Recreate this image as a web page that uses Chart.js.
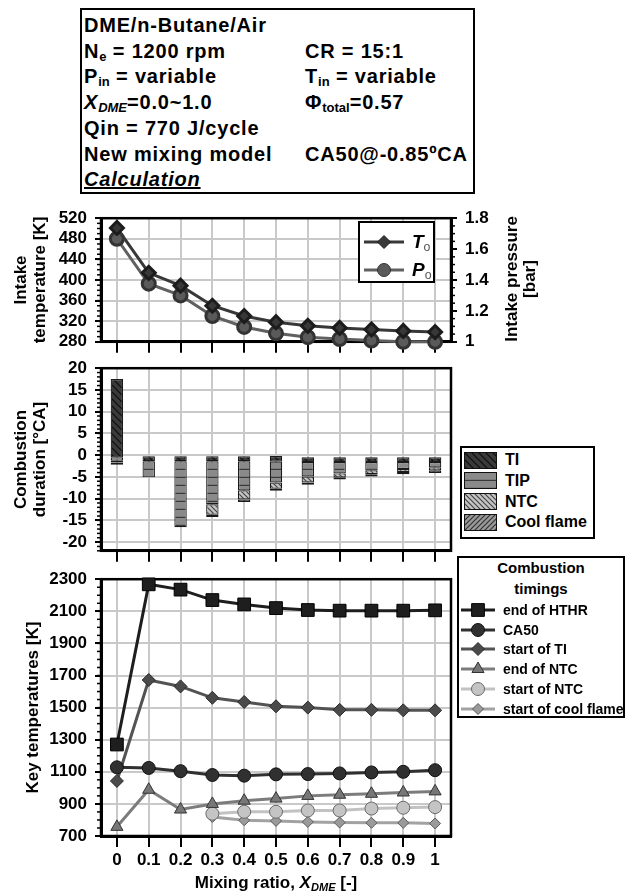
<!DOCTYPE html>
<html>
<head>
<meta charset="utf-8">
<script src="https://cdn.jsdelivr.net/npm/chart.js@4.4.0/dist/chart.umd.min.js"></script>
<style>
body { margin: 0; background: #fff; }
#page { position: relative; width: 631px; height: 892px; overflow: hidden; font-family: 'Liberation Sans', Arial, sans-serif; font-weight: bold; color: #000; }
#page canvas.chart { position: absolute; left: 0; }
.box { position: absolute; border: 2px solid #000; background: #fff; box-sizing: border-box; }
sub { font-size: 0.65em; line-height: 0; vertical-align: -0.25em; }
#info { left: 80px; top: 8px; width: 395px; height: 186px; font-size: 20px; letter-spacing: 0.8px; line-height: 25.7px; padding: 3px 0 0 2px; }
#info .row { display: flex; white-space: nowrap; }
#info .row span:first-child { width: 221px; }
#info sub { letter-spacing: 0; }
#leg1 { left: 358px; top: 221px; width: 77px; height: 62px; }
#leg2 { left: 460px; top: 446px; width: 135px; height: 93px; }
#leg3 { left: 457px; top: 556px; width: 168px; height: 162px; }
.item { position: absolute; display: flex; align-items: center; white-space: nowrap; }
.sw { width: 33px; height: 17px; border: 1.5px solid #111; box-sizing: border-box; margin-right: 8px; }
#leg3 .title { position: absolute; left: 0; width: 100%; text-align: center; font-size: 15px; line-height: 21px; top: -1px; }
#ytitle2 { position: absolute; left: 441px; top: 261px; width: 160px; text-align: center; font-size: 17px; line-height: 18px; transform: rotate(-90deg); }
#xtitle { position: absolute; left: 126px; top: 873px; width: 300px; text-align: center; font-size: 17px; }
</style>
</head>
<body>
<div id="page">
  <canvas id="intake" class="chart" width="631" height="160" style="top:200px"></canvas>
  <canvas id="duration" class="chart" width="631" height="219" style="top:350px"></canvas>
  <canvas id="temps" class="chart" width="631" height="331" style="top:561px"></canvas>

  <div id="info" class="box">
    <div class="row">DME/n-Butane/Air</div>
    <div class="row"><span>N<sub>e</sub> = 1200 rpm</span><span>CR = 15:1</span></div>
    <div class="row"><span>P<sub>in</sub> = variable</span><span>T<sub>in</sub> = variable</span></div>
    <div class="row"><span><i>X<sub>DME</sub></i>=0.0~1.0</span><span>&Phi;<sub>total</sub>=0.57</span></div>
    <div class="row">Qin = 770 J/cycle</div>
    <div class="row"><span>New mixing model</span><span>CA50@-0.85ºCA</span></div>
    <div class="row"><i><u>Calculation</u></i></div>
  </div>

  <div id="leg1" class="box"></div>
  <div id="leg2" class="box"></div>
  <div id="leg3" class="box"><div class="title">Combustion<br>timings</div></div>

  <div id="ytitle2">Intake pressure<br>[bar]</div>
  <div id="xtitle">Mixing ratio, <i>X<sub>DME</sub></i> [-]</div>
</div>

<script>
/*=======================================
 Data
========================================*/
const xLabels = ['0', '0.1', '0.2', '0.3', '0.4', '0.5', '0.6', '0.7', '0.8', '0.9', '1'];

// intake conditions
const intakeTemp = [501, 414, 389, 350, 330, 318, 311, 307, 304, 301, 299];
const intakePres = [1.667, 1.376, 1.30, 1.167, 1.096, 1.055, 1.03, 1.018, 1.008, 1.0, 1.0];

// combustion duration, segment boundaries [°CA] from top to bottom of each bar
const tiStart = [17.5, 0, 0, 0, 0, -0.2, -0.5, -0.5, -0.5, -0.5, -0.5];
const tiEnd = [-0.5, -1.4, -1.4, -1.4, -1.4, -1.5, -1.6, -1.6, -1.6, -1.6, -1.6];
const tipEnd = [-1.3, -5.1, -16.6, -11.3, -8.1, -6.3, -4.9, -4.2, -3.5, -3.2, -2.8];
const ntcEnd = [-1.7, -5.1, -16.6, -13.7, -10.2, -7.7, -6.3, -5.1, -4.4, -3.9, -3.5];
const coolEnd = [-2.2, -5.1, -16.6, -14.2, -10.8, -8.2, -6.8, -5.6, -4.9, -4.4, -4.1];
const durTicks = [-20, -15, -10, -5, 0, 5, 10, 15, 20];

// key temperatures [K]
const endHTHR = [1270, 2268, 2235, 2170, 2143, 2120, 2108, 2104, 2104, 2104, 2106];
const ca50 = [1128, 1124, 1104, 1080, 1076, 1084, 1086, 1090, 1096, 1100, 1110];
const startTI = [1043, 1672, 1632, 1561, 1535, 1508, 1500, 1486, 1486, 1483, 1483];
const endNTC = [757, 988, 865, 900, 920, 933, 950, 957, 963, 971, 978];
const startNTC = [null, null, null, 839, 851, 851, 859, 859, 871, 876, 880];
const startCool = [null, null, null, 818, 798, 794, 788, 784, 782, 782, 778];


/*=======================================
 Shared bits
========================================*/
Chart.defaults.font.family = "'Liberation Sans', Arial, sans-serif";
Chart.defaults.font.weight = 'bold';
Chart.defaults.color = '#000';

const gridColor = '#c9c9c9';
const tickFont = { size: 17, weight: 'bold' };
const titleFont = { size: 17, weight: 'bold', lineHeight: 1.1 };
const plain = v => String(Math.round(v * 100) / 100);

// black box round the plot area
const frame = {
  id: 'frame',
  beforeDatasetsDraw(chart) {
    const a = chart.chartArea, ctx = chart.ctx;
    ctx.save();
    ctx.strokeStyle = '#000';
    ctx.lineWidth = 2.5;
    ctx.strokeRect(a.left, a.top, a.right - a.left, a.bottom - a.top);
    ctx.restore();
  }
};

// small ticks between the labelled ones
const minorTicks = {
  id: 'minorTicks',
  afterDraw(chart, args, opts) {
    const ctx = chart.ctx;
    ctx.save();
    ctx.strokeStyle = '#000';
    ctx.lineWidth = 1.5;
    Object.keys(opts.steps || {}).forEach(id => {
      const scale = chart.scales[id];
      const step = opts.steps[id];
      let v = Math.ceil(scale.min / step - 1e-6) * step;
      for (; v <= scale.max + 1e-6; v += step) {
        const y = scale.getPixelForValue(v);
        ctx.beginPath();
        if (scale.position === 'left') { ctx.moveTo(scale.right, y); ctx.lineTo(scale.right - 4, y); }
        else { ctx.moveTo(scale.left, y); ctx.lineTo(scale.left + 4, y); }
        ctx.stroke();
      }
    });
    ctx.restore();
  }
};

function xAxis(showLabels, height) {
  return {
    offset: true,
    grid: { offset: false, color: gridColor, lineWidth: 2, tickColor: '#000', tickLength: 11, tickWidth: 2 },
    border: { color: '#000', width: 3 },
    ticks: { display: showLabels, font: { size: 17, weight: 'bold' }, padding: 3, maxRotation: 0, autoSkip: false },
    afterFit: s => { s.height = height; }
  };
}

function leftAxis(min, max, step, title, titlePad) {
  return {
    position: 'left', min: min, max: max,
    grid: { color: gridColor, lineWidth: 2, tickColor: '#000', tickLength: 6, tickWidth: 2 },
    border: { color: '#000', width: 3 },
    ticks: { stepSize: step, font: tickFont, padding: 8, autoSkip: false, callback: plain },
    title: { display: true, text: title, font: titleFont, padding: { top: titlePad, bottom: 0 } },
    afterFit: s => { s.width = 101; }
  };
}

// hatch tiles for the bars
function hatch(bg, fg, kind, gap) {
  const c = document.createElement('canvas');
  c.width = gap; c.height = gap;
  const g = c.getContext('2d');
  g.fillStyle = bg;
  g.fillRect(0, 0, gap, gap);
  g.strokeStyle = fg;
  g.lineWidth = 1.2;
  g.beginPath();
  if (kind === 'h') {
    g.moveTo(0, gap - 0.6); g.lineTo(gap, gap - 0.6);
  } else if (kind === 'back') {
    g.moveTo(0, 0); g.lineTo(gap, gap);
    g.moveTo(-2, gap - 2); g.lineTo(2, gap + 2);
    g.moveTo(gap - 2, -2); g.lineTo(gap + 2, 2);
  } else {
    g.moveTo(0, gap); g.lineTo(gap, 0);
    g.moveTo(-2, 2); g.lineTo(2, -2);
    g.moveTo(gap - 2, gap + 2); g.lineTo(gap + 2, gap - 2);
  }
  g.stroke();
  return c;
}

function drawMarker(g, style, x, y, r) {
  g.beginPath();
  if (style === 'circle') g.arc(x, y, r, 0, Math.PI * 2);
  else if (style === 'rect') { const s = r * Math.SQRT1_2; g.rect(x - s, y - s, 2 * s, 2 * s); }
  else if (style === 'rectRot') { g.moveTo(x, y - r); g.lineTo(x + r, y); g.lineTo(x, y + r); g.lineTo(x - r, y); g.closePath(); }
  else if (style === 'triangle') {
    for (let k = 0; k < 3; k++) {
      const a = k * 2 * Math.PI / 3;
      if (k === 0) g.moveTo(x + Math.sin(a) * r, y - Math.cos(a) * r);
      else g.lineTo(x + Math.sin(a) * r, y - Math.cos(a) * r);
    }
    g.closePath();
  }
  g.fill();
  g.stroke();
}

// legend line + marker icon
function lineIcon(ds, w, h) {
  const c = document.createElement('canvas');
  c.width = w; c.height = h;
  const g = c.getContext('2d');
  g.strokeStyle = ds.borderColor;
  g.lineWidth = ds.borderWidth;
  g.beginPath(); g.moveTo(0, h / 2); g.lineTo(w, h / 2); g.stroke();
  g.fillStyle = ds.pointBackgroundColor;
  g.strokeStyle = ds.pointBorderColor;
  g.lineWidth = 1;
  drawMarker(g, ds.pointStyle, w / 2, h / 2, ds.pointRadius);
  c.style.marginRight = '8px';
  return c;
}


/*=======================================
 Intake temperature / pressure
========================================*/
const intakeSets = [
  { label: 'T', data: intakeTemp, yAxisID: 'y', borderColor: '#383838', borderWidth: 3,
    pointStyle: 'rectRot', pointRadius: 6.5, pointBackgroundColor: '#383838', pointBorderColor: '#1c1c1c', clip: false },
  { label: 'P', data: intakePres, yAxisID: 'y2', borderColor: '#606060', borderWidth: 3,
    pointStyle: 'circle', pointRadius: 6.5, pointBackgroundColor: '#5a5a5a', pointBorderColor: '#333', clip: false }
];

new Chart(document.getElementById('intake'), {
  type: 'line',
  data: { labels: xLabels, datasets: intakeSets },
  options: {
    responsive: false, animation: false, devicePixelRatio: 1,
    layout: { padding: { top: 15, right: 120, left: 0, bottom: 0 } },
    plugins: { legend: { display: false }, tooltip: { enabled: false }, minorTicks: { steps: { y: 10, y2: 0.05 } } },
    scales: {
      x: xAxis(false, 14),
      y: leftAxis(280, 520, 40, ['Intake', 'temperature [K]'], 12),
      y2: {
        position: 'right', min: 1, max: 1.8,
        grid: { drawOnChartArea: false, tickColor: '#000', tickLength: 6, lineWidth: 2 },
        border: { color: '#000', width: 3 },
        ticks: { stepSize: 0.2, font: tickFont, padding: 8, autoSkip: false, callback: plain },
        afterFit: s => { s.width = 60; }
      }
    }
  },
  plugins: [frame, minorTicks]
});


/*=======================================
 Combustion duration bars
========================================*/
const tiFill = hatch('#3a3a3a', '#0d0d0d', 'back', 7);
const tipFill = hatch('#8a8a8a', '#3a3a3a', 'h', 8);
const ntcFill = hatch('#c4c4c4', '#444', 'back', 5);
const coolFill = hatch('#9a9a9a', '#333', 'fwd', 5);

function seg(top, bottom) {
  return top.map((v, i) => (v - bottom[i] > 0.05 ? [bottom[i], v] : null));
}

const ctxD = document.getElementById('duration').getContext('2d');
const barSets = [
  { label: 'TI', data: seg(tiStart, tiEnd), tile: tiFill },
  { label: 'TIP', data: seg(tiEnd, tipEnd), tile: tipFill },
  { label: 'NTC', data: seg(tipEnd, ntcEnd), tile: ntcFill },
  { label: 'Cool flame', data: seg(ntcEnd, coolEnd), tile: coolFill }
].map(d => ({
  label: d.label, data: d.data, tile: d.tile,
  backgroundColor: ctxD.createPattern(d.tile, 'repeat'),
  borderColor: '#1a1a1a', borderWidth: 1.2, borderSkipped: false,
  grouped: false, barPercentage: 0.39, categoryPercentage: 1
}));

const durY = leftAxis(-22, 20, 5, ['Combustion', 'duration [°CA]'], 12);
durY.afterBuildTicks = s => { s.ticks = durTicks.map(v => ({ value: v })); };

new Chart(ctxD, {
  type: 'bar',
  data: { labels: xLabels, datasets: barSets },
  options: {
    responsive: false, animation: false, devicePixelRatio: 1,
    layout: { padding: { top: 11, right: 180, left: 0, bottom: 0 } },
    plugins: { legend: { display: false }, tooltip: { enabled: false }, minorTicks: { steps: { y: 1 } } },
    scales: { x: xAxis(false, 12), y: durY }
  },
  plugins: [frame, minorTicks]
});


/*=======================================
 Key temperatures
========================================*/
function timing(label, data, color, style, r, fill, edge) {
  return { label: label, data: data, borderColor: color, borderWidth: 3, pointStyle: style, pointRadius: r,
    pointBackgroundColor: fill, pointBorderColor: edge, pointBorderWidth: 1, clip: false };
}

const timingSets = [
  timing('end of HTHR', endHTHR, '#1e1e1e', 'rect', 9, '#1e1e1e', '#000'),
  timing('CA50', ca50, '#303030', 'circle', 6.5, '#303030', '#111'),
  timing('start of TI', startTI, '#535353', 'rectRot', 6.5, '#4a4a4a', '#2a2a2a'),
  timing('end of NTC', endNTC, '#7c7c7c', 'triangle', 7, '#777', '#333'),
  timing('start of NTC', startNTC, '#c2c2c2', 'circle', 6.5, '#c4c4c4', '#6a6a6a'),
  timing('start of cool flame', startCool, '#a2a2a2', 'rectRot', 5.5, '#9a9a9a', '#5a5a5a')
];

new Chart(document.getElementById('temps'), {
  type: 'line',
  data: { labels: xLabels, datasets: timingSets },
  options: {
    responsive: false, animation: false, devicePixelRatio: 1,
    layout: { padding: { top: 11, right: 180, left: 0, bottom: 0 } },
    plugins: { legend: { display: false }, tooltip: { enabled: false }, minorTicks: { steps: { y: 50 } } },
    scales: { x: xAxis(true, 56), y: leftAxis(700, 2300, 200, 'Key temperatures [K]', 24) }
  },
  plugins: [frame, minorTicks]
});


/*=======================================
 Legends (html)
========================================*/
let leg1 = document.getElementById('leg1');
intakeSets.forEach((ds, i) => {
  const row = document.createElement('div');
  row.className = 'item';
  row.style.left = '4px';
  row.style.top = (8 + i * 28) + 'px';
  row.appendChild(lineIcon(ds, 40, 20));
  const t = document.createElement('span');
  t.style.fontSize = '19px';
  t.innerHTML = '<i>' + ds.label + '</i><sub style="font-weight:normal;color:#555">o</sub>';
  row.appendChild(t);
  leg1.appendChild(row);
});

let leg2 = document.getElementById('leg2');
barSets.forEach((ds, i) => {
  const row = document.createElement('div');
  row.className = 'item';
  row.style.left = '2px';
  row.style.top = (3 + i * 20.8) + 'px';
  row.style.fontSize = '16px';
  const sw = document.createElement('div');
  sw.className = 'sw';
  sw.style.backgroundImage = 'url(' + ds.tile.toDataURL() + ')';
  row.appendChild(sw);
  row.appendChild(document.createTextNode(ds.label));
  leg2.appendChild(row);
});

let leg3 = document.getElementById('leg3');
timingSets.forEach((ds, i) => {
  const row = document.createElement('div');
  row.className = 'item';
  row.style.left = '2px';
  row.style.top = (43 + i * 19.7) + 'px';
  row.style.fontSize = '14px';
  row.appendChild(lineIcon(ds, 34, 18));
  row.appendChild(document.createTextNode(ds.label));
  leg3.appendChild(row);
});
</script>
</body>
</html>
